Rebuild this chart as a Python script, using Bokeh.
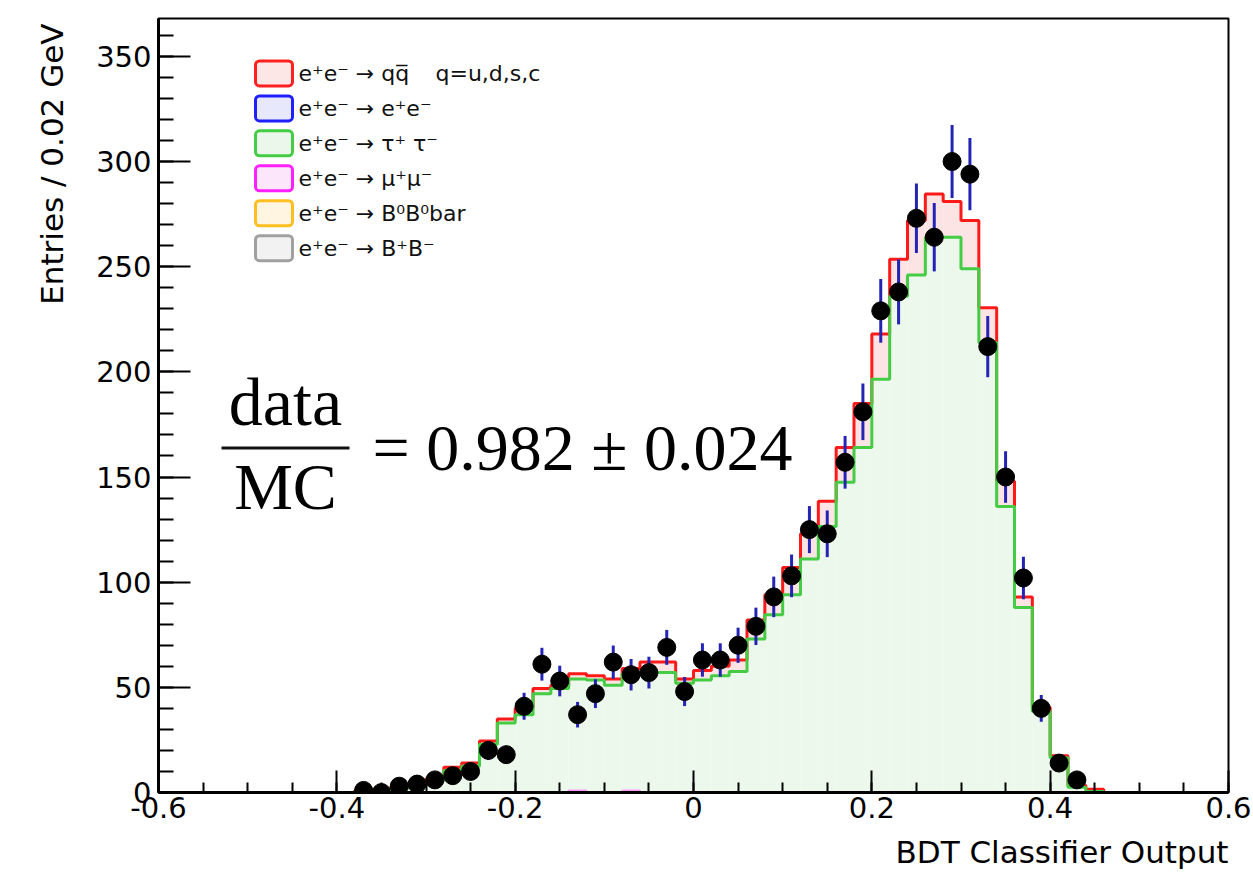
import numpy as np
from bokeh.plotting import figure
from bokeh.models import Range1d, SingleIntervalTicker, FixedTicker, Title
from bokeh.core.properties import value
from bokeh.embed import file_html
from bokeh.resources import INLINE

# ---------------------------------------------------------------- data
# BDT classifier output, bins of width 0.02 (bin centres)
bin_centres = [-0.37, -0.35, -0.33, -0.31, -0.29, -0.27, -0.25, -0.23, -0.21, -0.19,
               -0.17, -0.15, -0.13, -0.11, -0.09, -0.07, -0.05, -0.03, -0.01, 0.01,
               0.03, 0.05, 0.07, 0.09, 0.11, 0.13, 0.15, 0.17, 0.19, 0.21,
               0.23, 0.25, 0.27, 0.29, 0.31, 0.33, 0.35, 0.37, 0.39, 0.41,
               0.43, 0.45]
bin_width = 0.02

# simulated components (stacked): mu+mu- at the bottom, tau+tau- above, qq on top
mc_mumu = [0, 0, 0, 0, 0, 0, 0, 0, 0, 0,
           0, 0, 1, 0, 0, 1, 0, 0, 0, 0,
           0, 0, 0, 0, 0, 0, 0, 0, 0, 0,
           0, 0, 0, 0, 0, 0, 0, 0, 0, 0,
           0, 0]
mc_tautau = [0.5, 1, 2, 3, 5.5, 10.5, 12.5, 23, 33, 37,
             47, 49.5, 53, 53.5, 51, 55.5, 57, 57, 52, 53.5,
             55.5, 57.5, 73, 84.5, 94, 111, 126.5, 147.5, 164, 196.5,
             236, 246, 264, 264, 249, 214, 136, 88, 38.5, 16.5,
             2.5, 0.5]
mc_qq = [0.5, 0.5, 0.5, 0.5, 1, 1.5, 1.5, 1.5, 2, 3,
         2.5, 1.5, 2.5, 2, 3, 2.5, 5, 5, 2, 4.5,
         4.5, 5.5, 9, 9.5, 13, 12, 12, 16.5, 21, 21.5,
         17.5, 26, 20.5, 17, 23, 16.5, 12, 5, 2, 1,
         1, 1]

# observed events (bins -0.37 ... 0.43)
data_counts = [1, 0, 3, 4, 6, 8, 10, 20, 18, 41,
               61, 53, 37, 47, 62, 56, 57, 69, 48, 63,
               63, 70, 79, 93, 103, 125, 123, 157, 181, 229,
               238, 273, 264, 300, 294, 212, 150, 102, 40, 14,
               6]

x_tick_labels = {-0.6: "-0.6", -0.4: "-0.4", -0.2: "-0.2", 0: "0",
                 0.2: "0.2", 0.4: "0.4", 0.6: "0.6"}

legend_labels = ["e\u207ae\u207b \u2192 qq\u0305",
                 "e\u207ae\u207b \u2192 e\u207ae\u207b",
                 "e\u207ae\u207b \u2192 \u03c4\u207a \u03c4\u207b",
                 "e\u207ae\u207b \u2192 \u03bc\u207a\u03bc\u207b",
                 "e\u207ae\u207b \u2192 B\u2070B\u2070bar",
                 "e\u207ae\u207b \u2192 B\u207aB\u207b"]
legend_lines = ["#ff2020", "#1f1fff", "#44cc44", "#ff20ff", "#ffbf20", "#a0a0a0"]
legend_fills = ["#fde6e6", "#e8e8fd", "#eaf7ea", "#fbe6fb", "#fff5e0", "#f2f2f2"]

# ---------------------------------------------------------------- geometry
W, H = 1253, 880
LEFT, RIGHT, TOP, BOTTOM = 158, 25, 18, 87
X0, X1 = -0.6, 0.6
Y0, Y1 = 0.0, 368.0
FW, FH = W - LEFT - RIGHT, H - TOP - BOTTOM


def px_x(px):
    """canvas pixel column -> data x"""
    return X0 + (px - LEFT) / FW * (X1 - X0)


def px_y(py):
    """canvas pixel row -> data y"""
    return Y0 + (TOP + FH - py) / FH * (Y1 - Y0)


SANS_NAME = "DejaVu Sans"
SANS = value(SANS_NAME)
SERIF = value("Liberation Serif")

p = figure(width=W, height=H, output_backend="svg", toolbar_location=None,
           x_range=Range1d(X0, X1), y_range=Range1d(Y0, Y1),
           min_border_left=LEFT, min_border_right=RIGHT,
           min_border_top=TOP, min_border_bottom=BOTTOM)
p.background_fill_color = "white"
p.border_fill_color = "white"
p.outline_line_color = "black"
p.outline_line_width = 2
p.xgrid.visible = False
p.ygrid.visible = False

# ---------------------------------------------------------------- stacked histograms
centres = np.array(bin_centres)
mumu = np.array(mc_mumu, dtype=float)
tau = np.array(mc_tautau, dtype=float)
qq = np.array(mc_qq, dtype=float)
lo = centres - bin_width / 2
hi = centres + bin_width / 2
lvl_mumu = mumu
lvl_tau = mumu + tau
lvl_total = lvl_tau + qq

p.quad(left=lo, right=hi, bottom=0, top=lvl_tau, fill_color="#ecf8ec",
       line_color=None)
p.quad(left=lo, right=hi, bottom=lvl_tau, top=lvl_total, fill_color="#fde4e4",
       line_color=None)


def outline(levels):
    edges = np.append(lo, hi[-1])
    xs = np.repeat(edges, 2)
    ys = np.concatenate([[0.0], np.repeat(levels, 2), [0.0]])
    return xs, ys


xs, ys = outline(lvl_total)
p.line(xs, ys, line_color="#ff1a1a", line_width=3)
xs, ys = outline(lvl_tau)
p.line(xs, ys, line_color="#44cc44", line_width=3)
xs, ys = outline(lvl_mumu)
p.line(xs, ys, line_color="#ff60ff", line_width=2, line_alpha=0.6)

# ---------------------------------------------------------------- data points
dx = centres[:len(data_counts)]
dy = np.array(data_counts, dtype=float)
err = np.sqrt(dy)
p.segment(x0=dx, y0=dy - err, x1=dx, y1=dy + err, line_color="#2424b4",
          line_width=3)
p.scatter(dx, dy, size=18, fill_color="black", line_color="black")

# ---------------------------------------------------------------- axes
major_x = sorted(x_tick_labels)
minor_x = [round(v, 2) for v in np.arange(-0.6, 0.6001, 0.05)]
p.xaxis.ticker = FixedTicker(ticks=major_x, minor_ticks=minor_x)
p.yaxis.ticker = SingleIntervalTicker(interval=50, num_minor_ticks=5)
for ax in (p.xaxis[0], p.yaxis[0]):
    ax.axis_line_width = 3
    ax.axis_line_color = "black"
    ax.major_tick_line_width = 2
    ax.minor_tick_line_width = 2
    ax.major_tick_out = 0
    ax.minor_tick_out = 0
    ax.major_label_text_font = SANS_NAME
    ax.major_label_text_font_size = "29px"
    ax.major_label_text_color = "black"
p.xaxis.major_tick_in = 22
p.xaxis.minor_tick_in = 10
p.yaxis.major_tick_in = 32
p.yaxis.minor_tick_in = 15
p.xaxis.major_label_standoff = 4
p.yaxis.major_label_standoff = 7
p.xaxis.major_label_overrides = x_tick_labels

p.add_layout(Title(text="BDT Classifier Output", align="right",
                   text_font=SANS_NAME, text_font_size="31px",
                   text_font_style="normal", text_color="black",
                   standoff=22), "below")
p.add_layout(Title(text="Entries / 0.02 GeV", align="right",
                   text_font=SANS_NAME, text_font_size="31px",
                   text_font_style="normal", text_color="black",
                   standoff=47, offset=5), "left")

# ---------------------------------------------------------------- legend
rows = [px_y(73 + 35 * i) for i in range(len(legend_labels))]
p.rect(x=[px_x(273.5)] * len(rows), y=rows, width=37, height=25,
       width_units="screen", height_units="screen",
       fill_color=legend_fills, line_color=legend_lines, line_width=3,
       border_radius=4)
p.text(x=[px_x(298)] * len(rows), y=rows, text=legend_labels,
       text_font=SANS, text_font_size="22px", text_baseline="middle",
       text_align="left", text_color="#111111")
p.text(x=[px_x(435)], y=[rows[0]], text=["q=u,d,s,c"],
       text_font=SANS, text_font_size="22px", text_baseline="middle",
       text_align="left", text_color="#111111")

# ---------------------------------------------------------------- data / MC ratio
ratio_text = "= 0.982 \u00b1 0.024"
p.text(x=[px_x(285)], y=[px_y(402)], text=["data"], text_font=SERIF,
       text_font_size="68px", text_align="center", text_baseline="alphabetic",
       text_color="black")
p.segment(x0=[px_x(221)], y0=[px_y(448)], x1=[px_x(349)], y1=[px_y(448)],
          line_color="#111111", line_width=3)
p.text(x=[px_x(285)], y=[px_y(487)], text=["MC"], text_font=SERIF,
       text_font_size="66px", text_align="center", text_baseline="alphabetic",
       text_color="black")
p.text(x=[px_x(372)], y=[px_y(448)], text=[ratio_text], text_font=SERIF,
       text_font_size="66px", text_align="left", text_baseline="alphabetic",
       text_color="black")

open("out.html", "w").write(file_html(p, INLINE))
